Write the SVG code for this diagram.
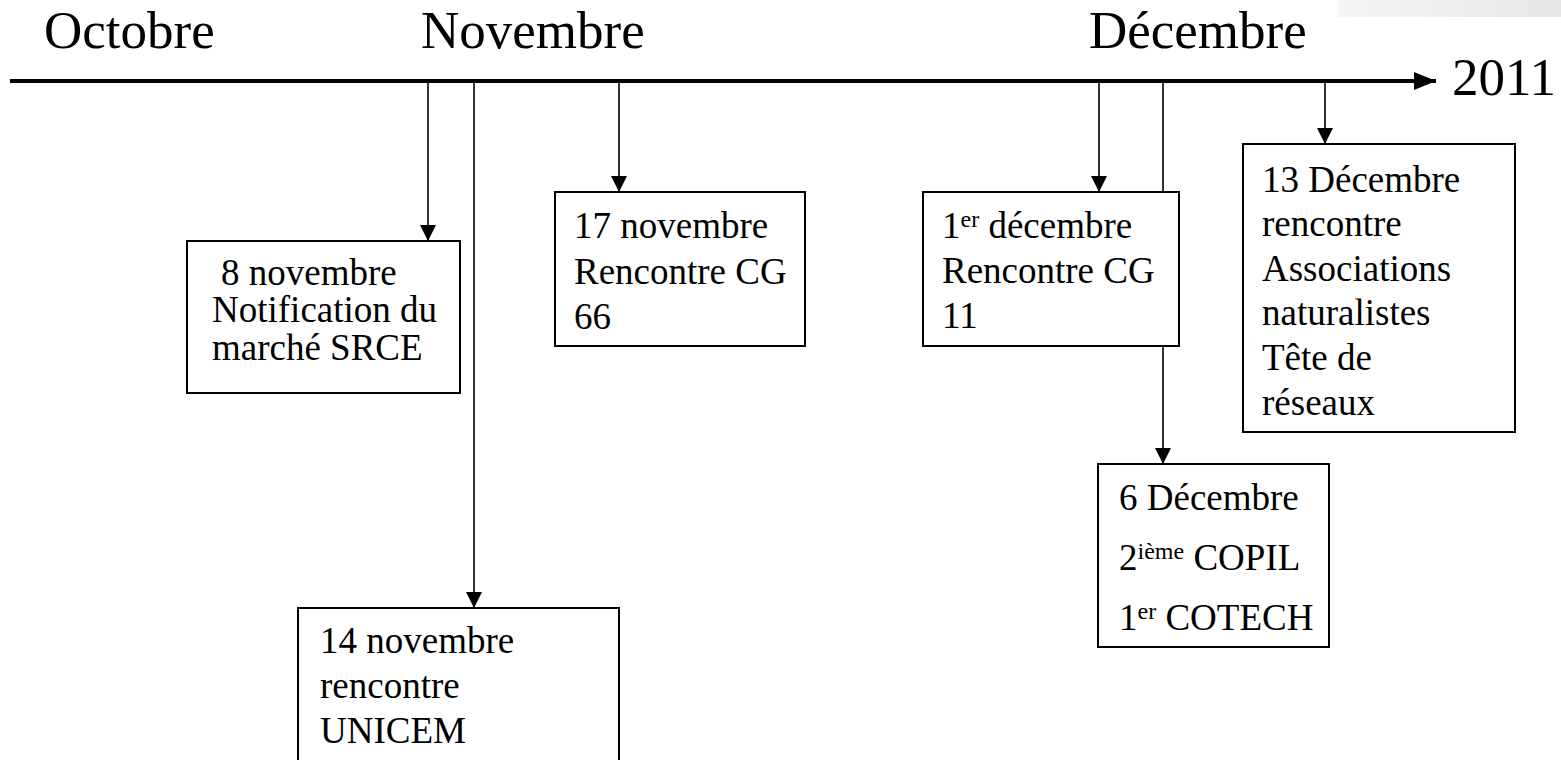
<svg xmlns="http://www.w3.org/2000/svg" width="1561" height="760" viewBox="0 0 1561 760">
<style>
.t{font-family:"Liberation Serif","Times New Roman",serif;fill:#000}
.m{font-size:53px}
.b{font-size:37px}
.s{font-size:24px}
.box{fill:#fff;stroke:#000;stroke-width:2}
.c{stroke:#000;stroke-width:1.6;fill:none}
.axis{stroke:#000;stroke-width:4;fill:none}
</style>
<defs>
<linearGradient id="g" x1="0" y1="0" x2="1" y2="0">
<stop offset="0" stop-color="#f6f6f6"/>
<stop offset="1" stop-color="#e6e6e6"/>
</linearGradient>
<marker id="a" markerUnits="userSpaceOnUse" markerWidth="16" markerHeight="16" viewBox="0 0 16 16" refX="16" refY="8" orient="auto">
<path d="M0,0 L16,8 L0,16 z" fill="#000"/>
</marker>
<marker id="ax" markerUnits="userSpaceOnUse" markerWidth="22" markerHeight="18" viewBox="0 0 22 18" refX="22" refY="9" orient="auto">
<path d="M0,0 L22,9 L0,18 z" fill="#000"/>
</marker>
</defs>
<rect x="1338" y="0" width="223" height="17" fill="url(#g)"/>
<g id="labels">
<text class="t m" x="44" y="48">Octobre</text>
<text class="t m" x="421" y="48">Novembre</text>
<text class="t m" x="1089" y="48">Décembre</text>
<text class="t m" x="1452" y="95">2011</text>
</g>
<g id="connectors">
<line class="axis" x1="10" y1="81" x2="1436" y2="81" marker-end="url(#ax)"/>
<line class="c" x1="428" y1="81" x2="428" y2="241" marker-end="url(#a)"/>
<line class="c" x1="474" y1="81" x2="474" y2="608" marker-end="url(#a)"/>
<line class="c" x1="619" y1="81" x2="619" y2="192" marker-end="url(#a)"/>
<line class="c" x1="1099" y1="81" x2="1099" y2="192" marker-end="url(#a)"/>
<line class="c" x1="1163" y1="81" x2="1163" y2="464" marker-end="url(#a)"/>
<line class="c" x1="1325" y1="81" x2="1325" y2="144" marker-end="url(#a)"/>
</g>
<g id="n8nov">
<rect class="box" x="187" y="241" width="273" height="152"/>
<text class="t b" x="221" y="285">8 novembre</text>
<text class="t b" x="212" y="322">Notification du</text>
<text class="t b" x="212" y="360">marché SRCE</text>
</g>
<g id="n14nov">
<rect class="box" x="298" y="608" width="321" height="170"/>
<text class="t b" x="320" y="653">14 novembre</text>
<text class="t b" x="320" y="698">rencontre</text>
<text class="t b" x="320" y="743">UNICEM</text>
</g>
<g id="n17nov">
<rect class="box" x="555" y="192" width="250" height="154"/>
<text class="t b" x="574" y="238">17 novembre</text>
<text class="t b" x="574" y="284">Rencontre CG</text>
<text class="t b" x="574" y="329">66</text>
</g>
<g id="n1dec">
<rect class="box" x="923" y="192" width="256" height="154"/>
<text class="t b" x="942" y="238">1<tspan class="s" dy="-11">er</tspan><tspan dy="11"> décembre</tspan></text>
<text class="t b" x="942" y="283">Rencontre CG</text>
<text class="t b" x="942" y="328">11</text>
</g>
<g id="n6dec">
<rect class="box" x="1098" y="464" width="231" height="183"/>
<text class="t b" x="1119" y="510">6 Décembre</text>
<text class="t b" x="1119" y="570">2<tspan class="s" dy="-11">ième</tspan><tspan dy="11"> COPIL</tspan></text>
<text class="t b" x="1119" y="630">1<tspan class="s" dy="-11">er</tspan><tspan dy="11"> COTECH</tspan></text>
</g>
<g id="n13dec">
<rect class="box" x="1243" y="144" width="272" height="288"/>
<text class="t b" x="1262" y="192">13 Décembre</text>
<text class="t b" x="1262" y="236">rencontre</text>
<text class="t b" x="1262" y="281">Associations</text>
<text class="t b" x="1262" y="325">naturalistes</text>
<text class="t b" x="1262" y="370">Tête de</text>
<text class="t b" x="1262" y="415">réseaux</text>
</g>
</svg>
